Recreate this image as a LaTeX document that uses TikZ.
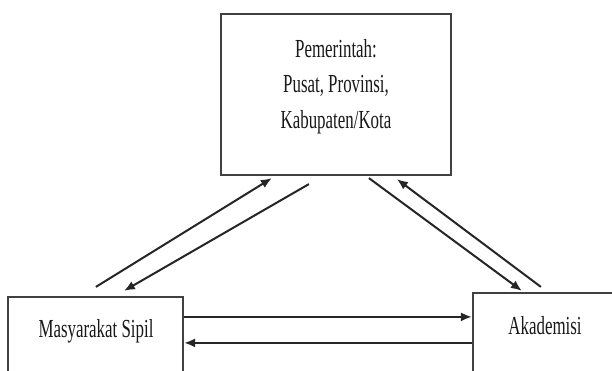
\documentclass[tikz,border=0pt]{standalone}
\usepackage{fontspec}
\setmainfont{Liberation Serif}
\usetikzlibrary{calc,arrows.meta}
\begin{document}
\begin{tikzpicture}[x=1pt,y=1pt,
  box/.style={draw=black!75, line width=2.2pt, inner sep=0pt, fill=white},
  txt/.style={font=\fontsize{26}{35.5}\selectfont, align=center, inner sep=0pt,
              xscale=0.65, transform shape, text=black!90},
  arr/.style={draw=black!85, line width=2pt, -{Latex[length=11pt,width=9pt]}}]
\useasboundingbox (0,0) rectangle (612,370);
\fill[white] (0,0) rectangle (612,370);

% boxes
\node[box, minimum width=230pt, minimum height=161pt] (pem) at (336,275.5) {};
\node[box, minimum width=175pt, minimum height=100pt] (msy) at (95.5,23) {};
\node[box, minimum width=177pt, minimum height=100pt] (aka) at (561.5,27) {};

% labels
\node[txt] (pemtxt) at (336,283.7) {Pemerintah:\\Pusat, Provinsi,\\Kabupaten/Kota};
\node[txt, anchor=base] (msytxt) at (96,33) {Masyarakat Sipil};
\node[txt, anchor=base] (akatxt) at (545,36) {Akademisi};

% government <-> civil society
\draw[arr] ($(msy.north west)+(89,9)$) -- ($(pem.south west)+(52,-2)$);
\draw[arr] ($(pem.south west)+(89,-8)$) -- ($(msy.north west)+(117,5)$);

% government <-> academia
\draw[arr] ($(pem.south west)+(149,-2)$) -- ($(aka.north west)+(50,1)$);
\draw[arr] ($(aka.north west)+(69,5)$) -- ($(pem.south west)+(177,-3)$);

% civil society <-> academia
\draw[arr] ($(msy.north east)+(0,-21)$) -- ($(aka.north west)+(0,-25)$);
\draw[arr] ($(aka.north west)+(0,-51)$) -- ($(msy.north east)+(0,-47)$);
\end{tikzpicture}
\end{document}
